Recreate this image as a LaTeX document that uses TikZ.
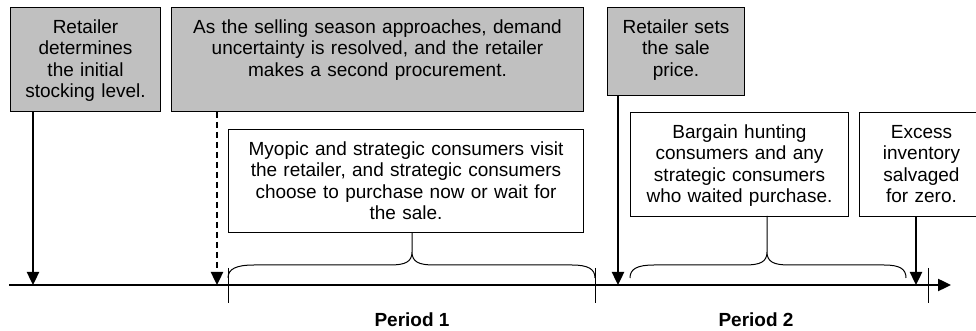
\documentclass[tikz,border=0pt]{standalone}
\usepackage{fontspec}
\setmainfont{Liberation Sans}
\usepackage{tikz}
\usetikzlibrary{calc}
\usetikzlibrary{arrows.meta}
\usetikzlibrary{positioning}

\definecolor{boxgray}{RGB}{192,192,192}

\tikzset{
  event/.style={rectangle, draw=black, line width=0.5pt, fill=boxgray, anchor=north west,
    inner xsep=0pt, inner ysep=0pt, align=center, text height=13pt,
    font=\fontsize{9.5}{10.75}\selectfont},
  outcome/.style={event, fill=white},
  step arrow/.style={-{Triangle[width=6pt,length=6.5pt]}, line width=1.2pt},
  brace line/.style={line width=0.5pt},
}

\begin{document}
\begin{tikzpicture}[x=0.5pt, y=-0.5pt]
\useasboundingbox (0,0) rectangle (976,331);
% events before the season
\node [event, text width=75pt, text depth=39pt] (stock) at (10, 7) {Retailer\\determines\\the initial\\stocking level.};
\node [event, text width=206pt, text depth=39pt] (procure) at (171, 7) {As the selling season approaches, demand\\uncertainty is resolved, and the retailer\\makes a second procurement.};
\node [event, text width=68.5pt, text depth=31pt] (price) at (607, 7) {Retailer sets\\the sale\\price.};
% what happens in each period
\node [outcome, text width=177.5pt, text depth=38.5pt] (visit) at (228, 129) {Myopic and strategic consumers visit\\the retailer, and strategic consumers\\choose to purchase now or wait for\\the sale.};
\node [outcome, text width=109pt, text depth=39pt] (bargain) at (630, 112) {Bargain hunting\\consumers and any\\strategic consumers\\who waited purchase.};
\node [outcome, text width=62pt, text depth=39pt] (salvage) at (859, 112) {Excess\\inventory\\salvaged\\for zero.};
% time axis
\coordinate (start) at (9, 285);
\coordinate (finish) at (951, 285);
\coordinate (t1) at (33, 285);
\coordinate (t2) at (217, 285);
\coordinate (t3) at (618, 285);
\coordinate (t4) at (916, 285);
\draw [-{Triangle[width=6pt,length=6.5pt]}, line width=1.2pt] (start) -- (finish);
\foreach \x in {228, 595, 928}
  \draw [line width=0.5pt] (\x, 268) -- (\x, 303);
\draw [step arrow] (stock.south -| t1) -- (t1);
\draw [step arrow, dash pattern=on 3pt off 2pt] (procure.south -| t2) -- (t2);
\draw [step arrow] (price.south -| t3) -- (t3);
\draw [step arrow] (salvage.south -| t4) -- (t4);
% braces
\draw [brace line] (228, 278) .. controls (228, 269) and (236, 265) .. (254, 265) -- (390, 265)
  .. controls (405, 265) and (412, 262) .. (412, 252) -- (412, 233)
  (412, 252) .. controls (412, 262) and (419, 265) .. (434, 265) -- (572, 265)
  .. controls (588, 265) and (595, 269) .. (595, 278);
\draw [brace line] (630, 278) .. controls (630, 269) and (637, 265) .. (654, 265) -- (745, 265)
  .. controls (760, 265) and (767, 262) .. (767, 252) -- (767, 216)
  (767, 252) .. controls (767, 262) and (774, 265) .. (789, 265) -- (884, 265)
  .. controls (900, 265) and (906, 269) .. (906, 278);
\node [font=\fontsize{9.5}{10.75}\selectfont\bfseries, anchor=base] (period1) at (412, 327) {Period 1};
\node [font=\fontsize{9.5}{10.75}\selectfont\bfseries, anchor=base] (period2) at (756, 327) {Period 2};
\end{tikzpicture}
\end{document}
